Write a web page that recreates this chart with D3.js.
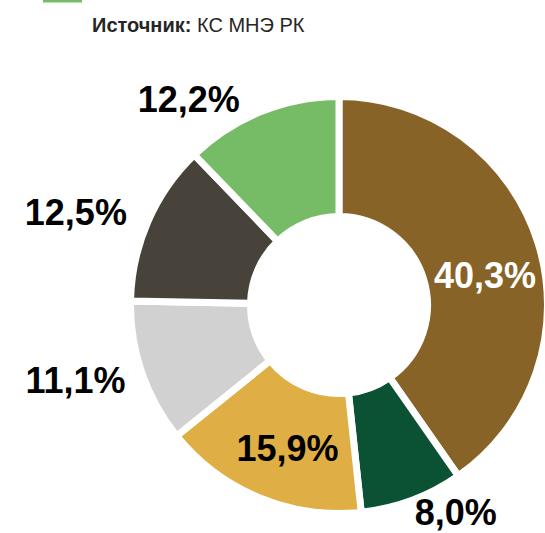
<!DOCTYPE html>
<html lang="ru">
<head>
    <meta charset="utf-8">
    <title>Структура</title>
    <script type="text/javascript" src="https://cdn.jsdelivr.net/npm/d3@7"></script>
    <style type="text/css">
        body { margin: 0; background: #fff; }
        svg { font-family: "Liberation Sans", Arial, sans-serif; }
    </style>
</head>
<body>
<script type="text/javascript">

    // slice values, clockwise from 12 o'clock
    var values = [40.3, 8.0, 15.9, 11.1, 12.5, 12.2];
    var labels = ["40,3%", "8,0%", "15,9%", "11,1%", "12,5%", "12,2%"];
    var colors = ["#876327", "#0b5133", "#dfae44", "#d1d1d1", "#47433b", "#76bc67"];

    // label placement: polar angle (deg, clockwise from top) and radius
    var labelAngle = [78.4, 150.6, 199.8, 254.1, 289.4, 323.9];
    var labelRadius = [149, 238, 152, 274, 279, 255];
    var labelFill = ["#fff", "#000", "#000", "#000", "#000", "#000"];

    var width = 545, height = 533;
    var cx = 339, cy = 305;
    var outerR = 205, innerR = 92, gap = 7;

    var svg = d3.select("body")
        .append("svg")
        .attr("width", width)
        .attr("height", height);

    // cut-off legend swatch at the very top
    svg.append("rect")
        .attr("x", 43).attr("y", 0)
        .attr("width", 39).attr("height", 2.5)
        .attr("fill", "#76bc67");

    var src = svg.append("text")
        .attr("x", 92)
        .attr("y", 32)
        .attr("font-size", 20)
        .attr("fill", "#262626");
    src.append("tspan").attr("font-weight", "bold").text("Источник:");
    src.append("tspan").text(" КС МНЭ РК");

    var pie = d3.pie().sort(null).value(function(d) { return d; });
    var arc = d3.arc()
        .innerRadius(innerR - gap / 2)
        .outerRadius(outerR + gap / 2);

    var g = svg.append("g")
        .attr("transform", "translate(" + cx + "," + cy + ")");

    g.selectAll("path")
        .data(pie(values))
        .enter()
        .append("path")
        .attr("d", arc)
        .attr("fill", function(d, i) { return colors[i]; })
        .attr("stroke", "#fff")
        .attr("stroke-width", gap)
        .attr("stroke-linejoin", "miter");

    g.selectAll(".lbl")
        .data(labels)
        .enter()
        .append("text")
        .attr("class", "lbl")
        .attr("x", function(d, i) { return labelRadius[i] * Math.sin(labelAngle[i] * Math.PI / 180); })
        .attr("y", function(d, i) { return -labelRadius[i] * Math.cos(labelAngle[i] * Math.PI / 180); })
        .attr("dy", "0.36em")
        .attr("text-anchor", "middle")
        .attr("font-size", 36)
        .attr("font-weight", "bold")
        .attr("fill", function(d, i) { return labelFill[i]; })
        .text(function(d) { return d; });

</script>
</body>
</html>
